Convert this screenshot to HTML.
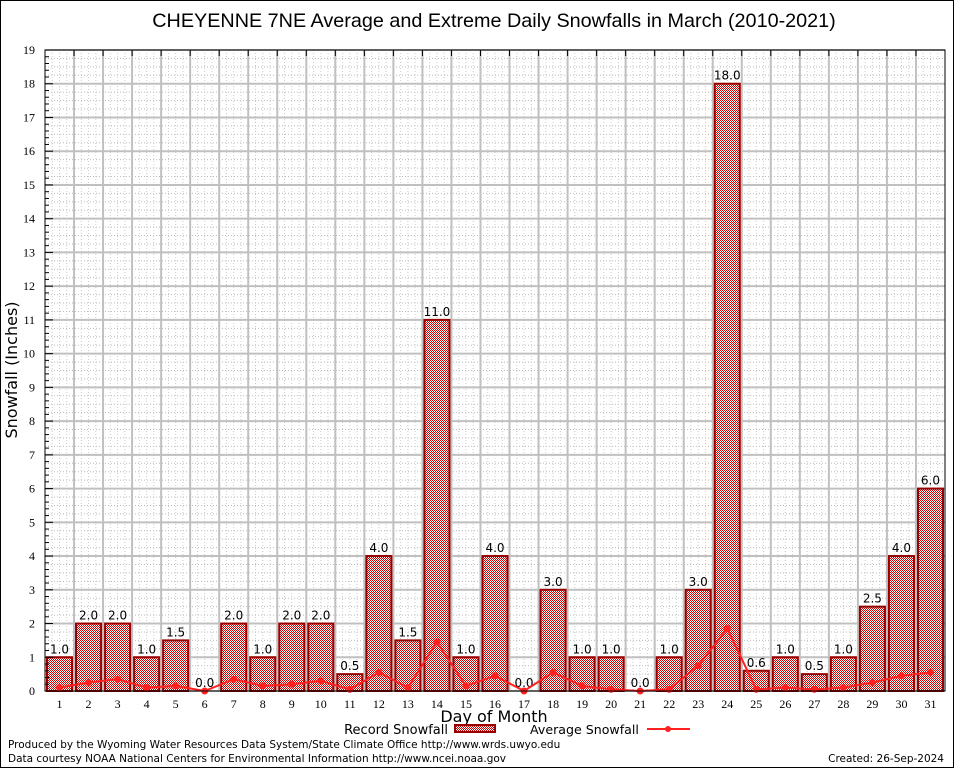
<!DOCTYPE html>
<html><head><meta charset="utf-8"><style>
body{margin:0;background:#fff;}
svg{display:block;font-family:"DejaVu Sans","Liberation Sans",sans-serif;}
</style></head><body>
<svg id="c" width="954" height="768" xmlns="http://www.w3.org/2000/svg">
<defs>
<pattern id="hatch" width="2" height="2" patternUnits="userSpaceOnUse">
<rect width="2" height="2" fill="#fff"/>
<rect width="1" height="1" fill="#d00000"/><rect x="1" y="1" width="1" height="1" fill="#d00000"/>
</pattern>
</defs>
<rect x="0.5" y="0.5" width="953" height="767" fill="#fff" stroke="#000"/>
<text x="494" y="27" font-size="19.8" text-anchor="middle" font-family="Liberation Sans, sans-serif">CHEYENNE 7NE Average and Extreme Daily Snowfalls in March (2010-2021)</text>
<g id="grid"></g>
<g id="bars"></g>
<g id="line"></g>
<g id="axes"></g>
<text transform="translate(17,370) rotate(-90)" font-size="16" text-anchor="middle">Snowfall (Inches)</text>
<text x="494" y="722" font-size="16" text-anchor="middle">Day of Month</text>
<g>
<text x="448" y="734" font-size="13" text-anchor="end">Record Snowfall</text>
<rect x="455" y="725" width="40" height="7" fill="url(#hatch)" stroke="#990000" stroke-width="2"/>
<text x="530" y="734" font-size="12.6">Average Snowfall</text>
<line x1="647" y1="729" x2="690" y2="729" stroke="#ff2020" stroke-width="2"/>
<circle cx="668" cy="729" r="3" fill="#ff2020"/>
</g>
<text x="8" y="748" font-size="10.5">Produced by the Wyoming Water Resources Data System/State Climate Office http://www.wrds.uwyo.edu</text>
<text x="8" y="762" font-size="10.5">Data courtesy NOAA National Centers for Environmental Information http://www.ncei.noaa.gov</text>
<text x="944" y="762" font-size="10.5" text-anchor="end">Created: 26-Sep-2024</text>
</svg>
<script>
const days=[1,2,3,4,5,6,7,8,9,10,11,12,13,14,15,16,17,18,19,20,21,22,23,24,25,26,27,28,29,30,31];
const records=[1.0,2.0,2.0,1.0,1.5,0.0,2.0,1.0,2.0,2.0,0.5,4.0,1.5,11.0,1.0,4.0,0.0,3.0,1.0,1.0,0.0,1.0,3.0,18.0,0.6,1.0,0.5,1.0,2.5,4.0,6.0];
const averages=[0.1,0.25,0.35,0.1,0.15,0.0,0.35,0.15,0.2,0.3,0.05,0.55,0.1,1.45,0.15,0.45,0.0,0.55,0.15,0.05,0.0,0.05,0.75,1.85,0.05,0.1,0.05,0.1,0.25,0.45,0.55];
const yTicks=[0,1,2,3,4,5,6,7,8,9,10,11,12,13,14,15,16,17,18,19];
const NS="http://www.w3.org/2000/svg";
const L=45,R=945,T=50,B=691,YMAX=19;
const cw=(R-L)/days.length;
function xc(i){return L+cw*(i+0.5);}
function y(v){return B-(v/YMAX)*(B-T);}
function mk(tag,attrs,parent,text){const e=document.createElementNS(NS,tag);for(const k in attrs)e.setAttribute(k,attrs[k]);if(text!==undefined)e.textContent=text;parent.appendChild(e);return e;}
const grid=document.getElementById('grid'),bars=document.getElementById('bars'),line=document.getElementById('line'),axes=document.getElementById('axes');
for(let v=0.25;v<YMAX;v+=0.25){if(Math.abs(v-Math.round(v))<1e-6)continue;const e=mk('line',{x1:L,x2:R,y1:y(v),y2:y(v),stroke:'#bbb','stroke-width':1,'stroke-dasharray':'1,2'},grid);

}
for(let i=0;i<days.length;i++){for(let q=1;q<4;q++){const xx=L+cw*i+cw*q/4;const e=mk('line',{x1:xx,x2:xx,y1:T,y2:B,stroke:'#ccc','stroke-width':1,'stroke-dasharray':'1,2'},grid);

}}
yTicks.forEach(t=>{const e=mk('line',{x1:L,x2:R,y1:y(t),y2:y(t),stroke:'#c0c0c0','stroke-width':2},grid);


const lb=mk('text',{x:L-10,y:y(t)+4,'font-size':12,'text-anchor':'end','font-family':'Liberation Serif, serif'},axes,String(t));


const tk=mk('line',{x1:L,x2:L+8,y1:y(t),y2:y(t),stroke:'#000'},axes);


if(t<YMAX){for(let m=1;m<5;m++){const mt=mk('line',{x1:L,x2:L+4,y1:y(t+m*0.2),y2:y(t+m*0.2),stroke:'#000'},axes);

}}});
for(let i=1;i<days.length;i++){const xx=L+cw*i;const e=mk('line',{x1:xx,x2:xx,y1:T,y2:B,stroke:'#c0c0c0','stroke-width':2},grid);


const tk=mk('line',{x1:xx,x2:xx,y1:T,y2:T+6,stroke:'#000'},axes);

}
days.forEach((d,i)=>{const v=records[i];const w=cw-4;const x0=xc(i)-w/2;
if(v>0){const b=mk('rect',{x:x0,y:y(v),width:w,height:B-y(v),fill:'url(#hatch)',stroke:'#990000','stroke-width':2},bars);

}
const lb=mk('text',{x:xc(i),y:y(v)-4,'font-size':12,'text-anchor':'middle'},bars,v.toFixed(1));


const xl=mk('text',{x:xc(i),y:B+17,'font-size':12,'text-anchor':'middle','font-family':'Liberation Serif, serif'},axes,String(d));

});
const pts=averages.map((v,i)=>xc(i)+','+y(v)).join(' ');
const pl=mk('polyline',{points:pts,fill:'none',stroke:'#ff2020','stroke-width':2},line);


averages.forEach((v,i)=>{const c=mk('circle',{cx:xc(i),cy:y(v),r:3.5,fill:'#ff2020'},line);

});
const fr=mk('rect',{x:L,y:T,width:R-L,height:B-T,fill:'none',stroke:'#000','stroke-width':1},axes);


</script>
</body></html>
